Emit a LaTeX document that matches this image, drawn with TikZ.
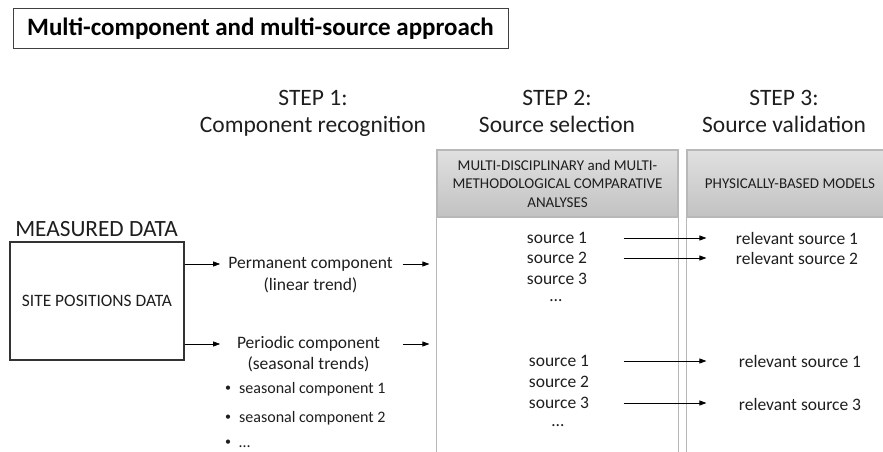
\documentclass[tikz,border=0pt]{standalone}
\usepackage{fontspec}
\setmainfont{Carlito}
\usetikzlibrary{arrows.meta, positioning, calc}
\definecolor{colgray}{RGB}{184, 184, 184}
\definecolor{headtop}{RGB}{224, 224, 224}
\definecolor{headbot}{RGB}{194, 194, 194}
\definecolor{inkgray}{RGB}{30, 30, 30}
\newcommand{\smallbul}{\raisebox{1.5pt}{\fontsize{12}{12}\selectfont\textbullet}}

\begin{document}
\begin{tikzpicture}[x=1pt, y=-1pt,
  txt/.style={inner sep=0pt, text=inkgray, font=\fontsize{17.5}{22}\selectfont, align=center},
  bul/.style={inner sep=0pt, text=inkgray, font=\fontsize{16}{19}\selectfont, anchor=west},
  steptxt/.style={inner sep=0pt, text=inkgray, font=\fontsize{23.5}{27}\selectfont, anchor=base},
  headbox/.style={draw=colgray, line width=1.2pt, top color=headtop, bottom color=headbot, text=inkgray, font=\fontsize{15}{18.5}\selectfont, align=center, inner sep=0pt},
  colline/.style={draw=colgray, line width=1.2pt},
  arr/.style={-{Triangle[length=7pt, width=5pt]}, line width=0.7pt}
]
  \useasboundingbox (0,0) rectangle (883,452);

  % title
  \node[draw=black!75, line width=1pt, minimum width=495pt, minimum height=40pt, inner sep=0pt,
    font=\fontsize{25}{30}\selectfont\bfseries] (title) at (260.5,29) {Multi-component and multi-source approach};

  % step labels
  \node[steptxt] (st1) at (313,105) {STEP 1:};
  \node[steptxt] (st1b) at (313,132) {Component recognition};
  \node[steptxt] (st2) at (557,105) {STEP 2:};
  \node[steptxt] (st2b) at (557,132) {Source selection};
  \node[steptxt] (st3) at (784,105) {STEP 3:};
  \node[steptxt] (st3b) at (784,132) {Source validation};

  % column headers and column lines
  \node[headbox, minimum width=241pt, minimum height=67pt] (hd2) at (557.5,183.5)
    {MULTI-DISCIPLINARY and MULTI-\\METHODOLOGICAL COMPARATIVE\\ANALYSES};
  \node[headbox, minimum width=206pt, minimum height=67pt] (hd3) at (790,183.5)
    {PHYSICALLY-BASED MODELS};
  \draw[colline] (hd2.south west) -- ++(0,240);
  \draw[colline] (hd2.south east) -- ++(0,240);
  \draw[colline] (hd3.south west) -- ++(0,240);

  % measured data
  \node[inner sep=0pt, text=inkgray, font=\fontsize{23.3}{27}\selectfont] (meas) at (96.5,229) {MEASURED DATA};
  \node[draw=black!80, line width=1.1pt, minimum width=174pt, minimum height=118pt, inner sep=0pt,
    text=inkgray, font=\fontsize{17.4}{21}\selectfont] (site) at (97,301) {SITE POSITIONS DATA};

  % step 1
  \node[txt] (perm) at (310.5,264) {Permanent component};
  \node[txt] (permsub) at (310.5,285) {(linear trend)};
  \node[txt] (peri) at (308.5,344) {Periodic component};
  \node[txt] (perisub) at (308.5,364) {(seasonal trends)};
  \node[bul] (sc1) at (225,389) {\smallbul\hspace{8pt}seasonal component 1};
  \node[bul] (sc2) at (225,418) {\smallbul\hspace{8pt}seasonal component 2};
  \node[bul] (sc3) at (225,444) {\smallbul\hspace{8pt}…};

  \draw[arr] (site.east |- perm) -- ([xshift=-8pt]perm.west);
  \draw[arr] (site.east |- peri) -- ([xshift=-8pt]perm.west |- peri);
  \draw[arr] ([xshift=10pt]perm.east) -- ([xshift=-7pt]hd2.west |- perm);
  \draw[arr] ([xshift=-33pt]hd2.west |- peri) -- ([xshift=-7pt]hd2.west |- peri);

  % step 2
  \node[txt] (sa1) at (557,238) {source 1};
  \node[txt] (sa2) at (557,258) {source 2};
  \node[txt] (sa3) at (557,279) {source 3};
  \node[txt] (sa4) at (556,301) {…};
  \node[txt] (sb1) at (559,361) {source 1};
  \node[txt] (sb2) at (559,382) {source 2};
  \node[txt] (sb3) at (559,403) {source 3};
  \node[txt] (sb4) at (558,426) {…};

  % step 3
  \node[txt] (ra1) at (797,238) {relevant source 1};
  \node[txt] (ra2) at (797,258) {relevant source 2};
  \node[txt] (rb1) at (800,361) {relevant source 1};
  \node[txt] (rb3) at (800,404) {relevant source 3};

  \draw[arr] ([xshift=-55pt]hd2.east |- sa1) -- ([xshift=20pt]hd3.west |- sa1);
  \draw[arr] ([xshift=-55pt]hd2.east |- sa2) -- ([xshift=20pt]hd3.west |- sa2);
  \draw[arr] ([xshift=-55pt]hd2.east |- sb1) -- ([xshift=20pt]hd3.west |- sb1);
  \draw[arr] ([xshift=-55pt]hd2.east |- sb3) -- ([xshift=20pt]hd3.west |- sb3);
\end{tikzpicture}
\end{document}
